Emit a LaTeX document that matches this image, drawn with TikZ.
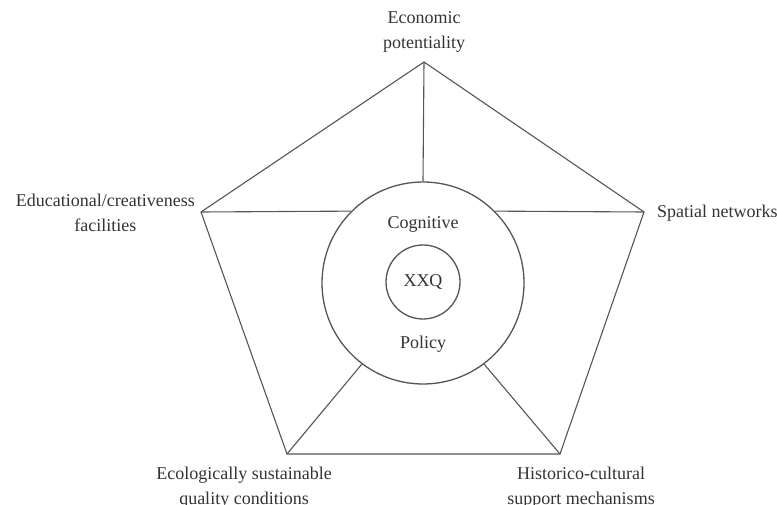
\documentclass[tikz,border=0pt]{standalone}
\usepackage{fontspec}
\setmainfont{Liberation Serif}
\definecolor{linegray}{HTML}{555555}
\definecolor{textgray}{HTML}{333333}
\tikzset{
  label text/.style={text=textgray, align=center, inner sep=0pt,
    font=\fontsize{18pt}{25pt}\selectfont},
  ring/.style={circle, draw=linegray, line width=1.3pt, inner sep=0pt},
}
\begin{document}
\begin{tikzpicture}
\useasboundingbox (0pt,0pt) rectangle (777pt,-505pt);
% pentagon corners
\coordinate (eco) at (424pt, -62pt);
\coordinate (spa) at (644pt, -212pt);
\coordinate (his) at (560pt, -454pt);
\coordinate (ecl) at (287pt, -454pt);
\coordinate (edu) at (201pt, -212pt);
\draw[color=linegray, line width=1.1pt, line join=miter] (eco) -- (spa) -- (his) -- (ecl) -- (edu) -- cycle;
% circles
\node[ring, minimum size=202pt] (outer) at (423pt, -283pt) {};
\node[ring, minimum size=74pt, label text] (xxq) at (423pt, -282pt) {XXQ};
\node[label text] (cog) at (423pt, -224pt) {Cognitive};
\node[label text] (pol) at (423pt, -344pt) {Policy};
% spokes
\draw[color=linegray, line width=1.1pt] (eco) -- (outer.north);
\draw[color=linegray, line width=1.1pt] (spa) -- (outer.45);
\draw[color=linegray, line width=1.1pt] (edu) -- (outer.135);
\draw[color=linegray, line width=1.1pt] (ecl) -- (outer.233);
\draw[color=linegray, line width=1.1pt] (his) -- (outer.307);
% labels
\node[label text, anchor=south] (ecolab) at (424pt, -53pt) {Economic\\potentiality};
\node[label text, anchor=west] (spalab) at (657pt, -213pt) {Spatial networks};
\node[label text, anchor=east] (edulab) at (195pt, -213pt) {Educational/creativeness\\facilities};
\node[label text, anchor=north] (ecllab) at (244pt, -467pt) {Ecologically sustainable\\quality conditions};
\node[label text, anchor=north] (hislab) at (581pt, -467pt) {Historico-cultural\\support mechanisms};
\end{tikzpicture}
\end{document}
